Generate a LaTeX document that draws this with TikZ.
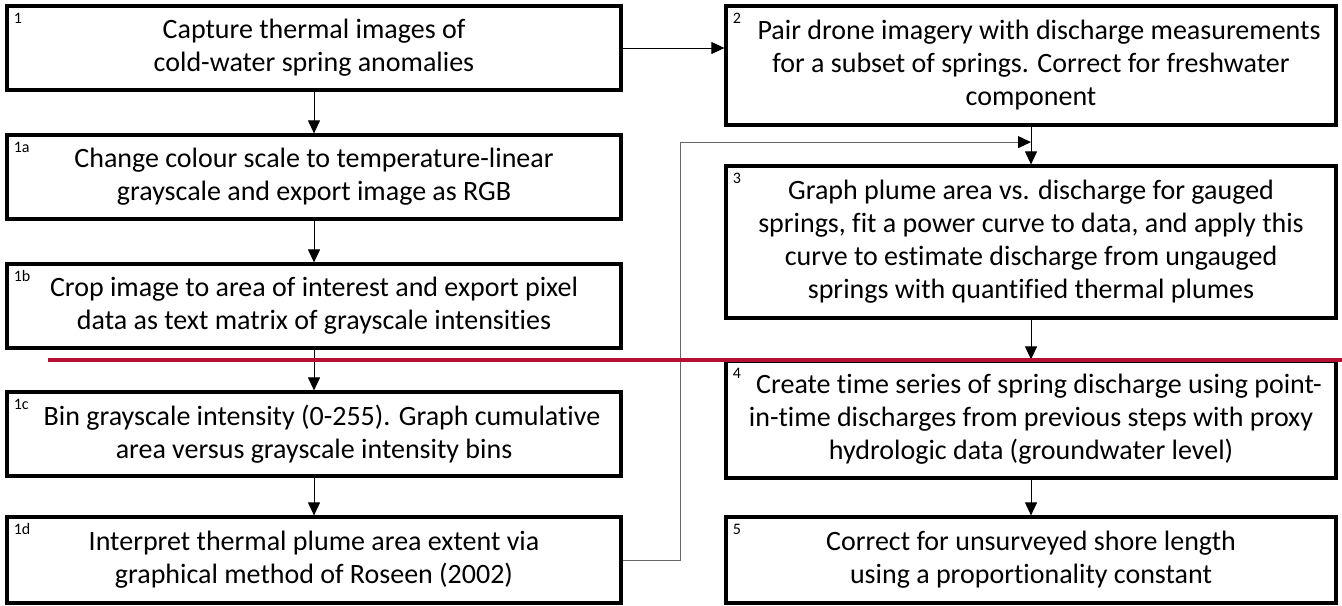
\documentclass[tikz,border=0pt]{standalone}
\usepackage{fontspec}
\setmainfont{Carlito}[Ligatures=NoCommon]
\usetikzlibrary{arrows.meta,calc}
\definecolor{divider}{RGB}{180,16,50}
\tikzstyle{every picture}=[x=0.5pt, y=-0.5pt, >={Triangle[length=6.5pt,width=6pt]}]
\tikzstyle{stepbox}=[draw, line width=1.6pt, align=center, inner sep=0pt,%
	font=\fontsize{14}{16.5}\selectfont]
\tikzstyle{leftbox}=[stepbox, minimum width=307pt]
\tikzstyle{rightbox}=[stepbox, minimum width=305pt]
\tikzstyle{steplabel}=[anchor=north west, inner sep=0pt, xshift=4pt, yshift=-4pt,%
	font=\fontsize{8}{9}\selectfont]
\tikzstyle{flow}=[->, line width=0.5pt]
\tikzstyle{bypass}=[line width=0.5pt, draw=black!60, -{Triangle[length=6.5pt,width=6pt,black]}]

\begin{document}
\begin{tikzpicture}
	\useasboundingbox (0,0) rectangle (1342,605);
	% left column: image processing
	\node (b1) [leftbox, minimum height=42pt] at (314,48) {Capture thermal images of\\cold-water spring anomalies};
	\node (b1a) [leftbox, minimum height=42pt] at (314,177) {Change colour scale to temperature-linear\\grayscale and export image as RGB};
	\node (b1b) [leftbox, minimum height=42pt] at (314,306) {Crop image to area of interest and export pixel\\data as text matrix of grayscale intensities};
	\node (b1c) [leftbox, minimum height=42pt] at (314,434) {\hspace*{8pt}Bin grayscale intensity (0-255). Graph cumulative\\area versus grayscale intensity bins};
	\node (b1d) [leftbox, minimum height=43pt] at (314,560) {Interpret thermal plume area extent via\\graphical method of Roseen (2002)};
	% right column: discharge
	\node (b2) [rightbox, minimum height=59.5pt] at (1031,65.5) {\hspace*{8pt}Pair drone imagery with discharge measurements\\for a subset of springs. Correct for freshwater\\component};
	\node (b3) [rightbox, minimum height=76pt] at (1031,242) {Graph plume area vs. discharge for gauged\\springs, fit a power curve to data, and apply this\\curve to estimate discharge from ungauged\\springs with quantified thermal plumes};
	\node (b4) [rightbox, minimum height=58.5pt] at (1031,419.5) {\hspace*{8pt}Create time series of spring discharge using point-\\in-time discharges from previous steps with proxy\\hydrologic data (groundwater level)};
	\node (b5) [rightbox, minimum height=43pt] at (1031,560) {Correct for unsurveyed shore length\\using a proportionality constant};
	\foreach \b/\n in {b1/1, b1a/1a, b1b/1b, b1c/1c, b1d/1d, b2/2, b3/3, b4/4, b5/5}
		\node (\b-no) [steplabel] at (\b.north west) {\n};
	% arrows
	\draw[flow] (b1.east) -- (b1.east -| b2.west);
	\foreach \a/\b in {b1/b1a, b1a/b1b, b1b/b1c, b1c/b1d, b2/b3, b3/b4, b4/b5}
		\draw[flow] (\a.south) -- (\b.north);
	\coordinate (merge) at ($(b2.south)!0.41!(b3.north)$);
	\draw[bypass] (b1d.east) -- ++(58,0) |- (merge);
	% divider
	\draw[divider, line width=1.6pt] (48,360) -- (1342,360);
\end{tikzpicture}
\end{document}
